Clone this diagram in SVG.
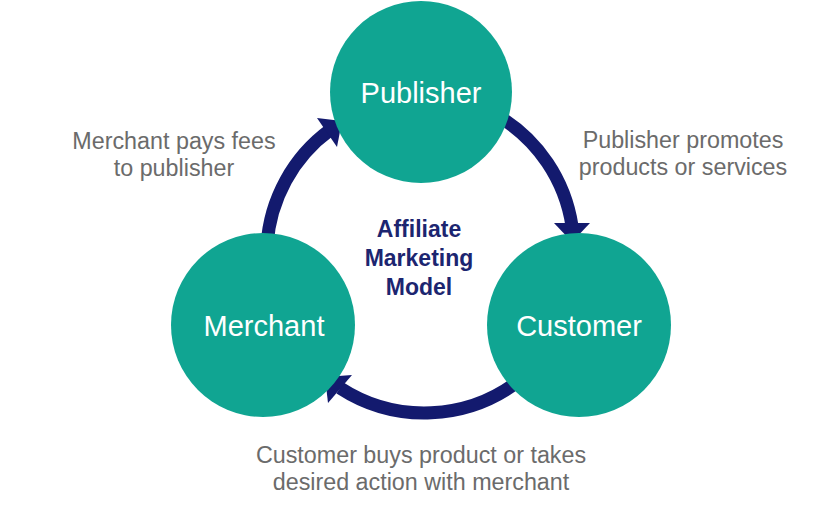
<svg xmlns="http://www.w3.org/2000/svg" width="825" height="510" viewBox="0 0 825 510">
<style>
.node{fill:#10a592}
.nl{font-family:"Liberation Sans",Arial,sans-serif;font-size:29px;fill:#ffffff;text-anchor:middle}
.lbl{font-family:"Liberation Sans",Arial,sans-serif;font-size:23.3px;fill:#6b6b6b;text-anchor:middle}
.ctr{font-family:"Liberation Sans",Arial,sans-serif;font-size:23px;font-weight:bold;fill:#1c2570;text-anchor:middle}
.shaft{fill:none;stroke:#131a6e;stroke-width:13}
.head{fill:#131a6e}
</style>
<rect width="825" height="510" fill="#ffffff"/>
<g id="connectors">
<path class="shaft" d="M 267 245 A 155 155 0 0 1 330 130"/>
<polygon class="head" points="342,121 317,118 337,147"/>
<path class="shaft" d="M 498 116 A 155 155 0 0 1 572 226"/>
<polygon class="head" points="572,242 554,223 590,223"/>
<path class="shaft" d="M 520 380 A 155 155 0 0 1 340 388"/>
<polygon class="head" points="325,377 352,375 328,403"/>
</g>
<g id="publisher">
<circle class="node" cx="421" cy="92" r="91"/>
<text class="nl" x="421" y="103">Publisher</text>
</g>
<g id="customer">
<circle class="node" cx="579" cy="325" r="92"/>
<text class="nl" x="579" y="336">Customer</text>
</g>
<g id="merchant">
<circle class="node" cx="263" cy="325" r="92"/>
<text class="nl" x="264" y="336">Merchant</text>
</g>
<g id="labels">
<text class="lbl" x="174" y="149">Merchant pays fees</text>
<text class="lbl" x="174" y="176">to publisher</text>
<text class="lbl" x="683" y="148">Publisher promotes</text>
<text class="lbl" x="683" y="175">products or services</text>
<text class="lbl" x="421" y="463">Customer buys product or takes</text>
<text class="lbl" x="421" y="490">desired action with merchant</text>
<text class="ctr" x="419" y="237">Affiliate</text>
<text class="ctr" x="419" y="266">Marketing</text>
<text class="ctr" x="419" y="295">Model</text>
</g>
</svg>
